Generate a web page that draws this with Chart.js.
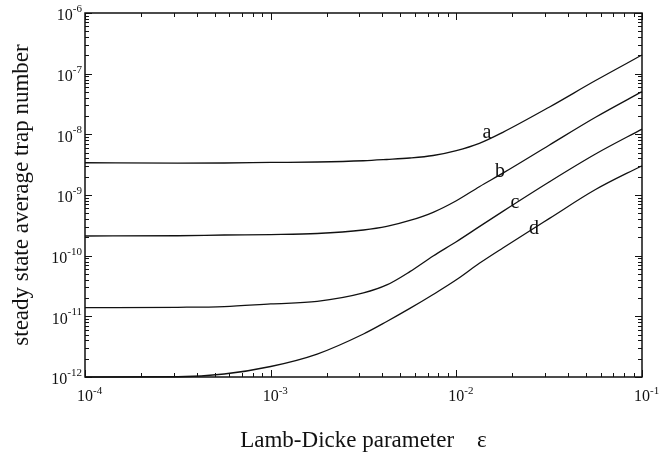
<!DOCTYPE html>
<html>
<head>
<meta charset="utf-8">
<script src="https://cdn.jsdelivr.net/npm/chart.js@4/dist/chart.umd.min.js"></script>
<style>
  html, body { margin: 0; padding: 0; background: #fff; }
  #wrap { width: 662px; height: 457px; }
</style>
</head>
<body>
<div id="wrap"><canvas id="myChart"></canvas></div>
<script>
/*------------------------------DATA--------------------------------------------*/

// Lamb-Dicke parameter samples (log spaced, denser around the bend)
const eps = [1e-4, 3.16e-4, 5.62e-4, 1e-3, 1.78e-3, 3.16e-3, 4.22e-3, 5.62e-3, 7.5e-3, 1e-2, 1.33e-2, 1.78e-2, 3.16e-2, 5.62e-2, 1e-1];

// steady state average trap number for each curve
const curveA = [3.4e-9, 3.35e-9, 3.37e-9, 3.44e-9, 3.5e-9, 3.67e-9, 3.85e-9, 4.07e-9, 4.48e-9, 5.4e-9, 7.11e-9, 1.08e-8, 2.8e-8, 7.7e-8, 2.03e-7];
const curveB = [2.11e-10, 2.13e-10, 2.19e-10, 2.23e-10, 2.32e-10, 2.65e-10, 3.03e-10, 3.8e-10, 5.19e-10, 8.05e-10, 1.37e-9, 2.29e-9, 6.62e-9, 1.91e-8, 5.05e-8];
const curveC = [1.39e-11, 1.41e-11, 1.45e-11, 1.6e-11, 1.76e-11, 2.43e-11, 3.29e-11, 5.46e-11, 9.89e-11, 1.7e-10, 3.01e-10, 5.38e-10, 1.64e-9, 4.74e-9, 1.22e-8];
const curveD = [1.0e-12, 1.01e-12, 1.12e-12, 1.49e-12, 2.39e-12, 5.12e-12, 8.22e-12, 1.35e-11, 2.29e-11, 4.0e-11, 7.48e-11, 1.34e-10, 4.08e-10, 1.23e-9, 3.04e-9];

const curveNames = ['a', 'b', 'c', 'd'];
// where each curve letter sits (x, y in data units)
const nameX = [0.0146, 0.0172, 0.0207, 0.0262];
const nameY = [1.05e-8, 2.39e-9, 7.38e-10, 2.75e-10];

const xDecades = [-4, -3, -2, -1];
const yDecades = [-12, -11, -10, -9, -8, -7, -6];

/*-------------------------------------------------------------------------------*/

const SERIF = '"Liberation Serif", "Times New Roman", serif';

function toPoints(ys) {
    return eps.map((x, i) => ({ x: x, y: ys[i] }));
}

const datasets = [curveA, curveB, curveC, curveD].map((ys, i) => ({
    label: curveNames[i],
    data: toPoints(ys),
    borderColor: '#111',
    borderWidth: 1.3,
    pointRadius: 0,
    fill: false,
    cubicInterpolationMode: 'monotone',
    clip: false
}));

// frame, inward ticks, power-of-ten labels, titles and curve letters
const decor = {
    id: 'decor',
    afterDatasetsDraw(chart) {
        const ctx = chart.ctx;
        const a = chart.chartArea;
        const xs = chart.scales.x, ys = chart.scales.y;
        ctx.save();
        ctx.strokeStyle = '#111';
        ctx.fillStyle = '#111';

        ctx.lineWidth = 1.5;
        ctx.strokeRect(a.left, a.top, a.right - a.left, a.bottom - a.top);

        ctx.lineWidth = 1;
        ctx.beginPath();
        xDecades.forEach(d => {
            for (let m = 1; m <= 9; m++) {
                if (d === -1 && m > 1) break;
                const px = Math.round(xs.getPixelForValue(m * Math.pow(10, d))) + 0.5;
                const len = m === 1 ? 7 : 4;
                ctx.moveTo(px, a.bottom); ctx.lineTo(px, a.bottom - len);
                ctx.moveTo(px, a.top); ctx.lineTo(px, a.top + len);
            }
        });
        yDecades.forEach(d => {
            for (let m = 1; m <= 9; m++) {
                if (d === -6 && m > 1) break;
                const py = Math.round(ys.getPixelForValue(m * Math.pow(10, d))) + 0.5;
                const len = m === 1 ? 7 : 4;
                ctx.moveTo(a.left, py); ctx.lineTo(a.left + len, py);
                ctx.moveTo(a.right, py); ctx.lineTo(a.right - len, py);
            }
        });
        ctx.stroke();

        // tick labels as 10 with a raised exponent
        ctx.textBaseline = 'middle';
        xDecades.forEach(d => {
            const px = xs.getPixelForValue(Math.pow(10, d));
            ctx.font = '16px ' + SERIF;
            ctx.textAlign = 'center';
            ctx.fillText('10', px, a.bottom + 20);
            const w = ctx.measureText('10').width;
            ctx.font = '11px ' + SERIF;
            ctx.textAlign = 'left';
            ctx.fillText('-' + (-d), px + w / 2, a.bottom + 14);
        });
        yDecades.forEach(d => {
            const py = ys.getPixelForValue(Math.pow(10, d));
            ctx.font = '11px ' + SERIF;
            ctx.textAlign = 'right';
            const ex = '-' + (-d);
            ctx.fillText(ex, a.left - 3, py - 4);
            const ew = ctx.measureText(ex).width;
            ctx.font = '16px ' + SERIF;
            ctx.fillText('10', a.left - 3 - ew, py + 3);
        });

        // curve letters
        ctx.font = '20px ' + SERIF;
        ctx.textAlign = 'center';
        curveNames.forEach((n, i) => {
            ctx.fillText(n, xs.getPixelForValue(nameX[i]), ys.getPixelForValue(nameY[i]));
        });

        // axis titles
        ctx.font = '23px ' + SERIF;
        ctx.textAlign = 'center';
        ctx.fillText('Lamb-Dicke parameter    \u03b5', (a.left + a.right) / 2, 441);
        ctx.translate(22, (a.top + a.bottom) / 2);
        ctx.rotate(-Math.PI / 2);
        ctx.fillText('steady state average trap number', 0, 0);
        ctx.restore();
    }
};

const config = {
    type: 'line',
    data: { datasets: datasets },
    options: {
        responsive: true,
        maintainAspectRatio: false,
        animation: false,
        layout: { padding: { left: 85, right: 20, top: 13, bottom: 80 } },
        plugins: { legend: { display: false }, tooltip: { enabled: false } },
        scales: {
            x: {
                type: 'logarithmic', min: 1e-4, max: 1e-1,
                grid: { display: false }, border: { display: false },
                ticks: { display: false },
                afterFit: s => { s.height = 0; }
            },
            y: {
                type: 'logarithmic', min: 1e-12, max: 1e-6,
                grid: { display: false }, border: { display: false },
                ticks: { display: false },
                afterFit: s => { s.width = 0; }
            }
        }
    },
    plugins: [decor]
};

const myChart = new Chart(document.getElementById('myChart'), config);
</script>
</body>
</html>
